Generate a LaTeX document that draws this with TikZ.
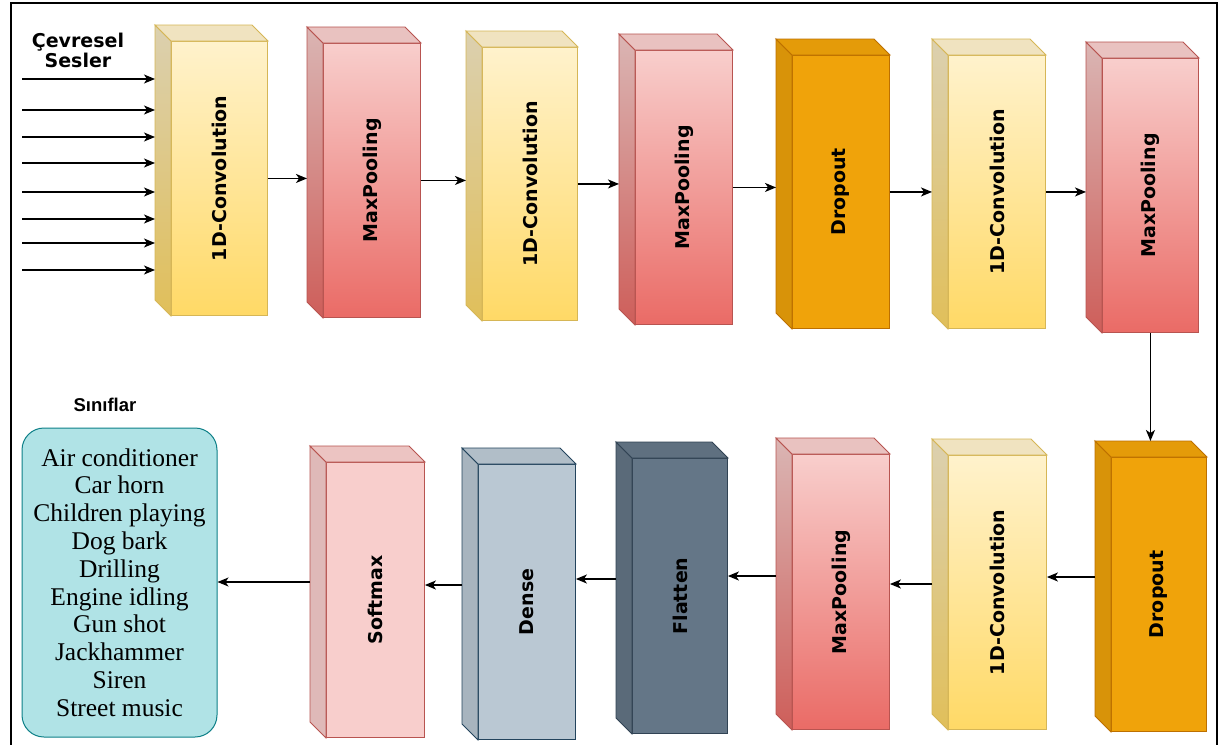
\documentclass[tikz,border=0pt]{standalone}
\usepackage{fontspec}
\setmainfont{Liberation Serif}
\setsansfont{DejaVu Sans}
\newfontfamily\headfont{Liberation Sans}
\usetikzlibrary{arrows.meta}

% layer palettes
\definecolor{convA}{HTML}{FFF2CC}
\definecolor{convB}{HTML}{FFD966}
\definecolor{convS}{HTML}{D6B656}
\definecolor{poolA}{HTML}{F8CECC}
\definecolor{poolB}{HTML}{EA6B66}
\definecolor{poolS}{HTML}{B85450}
\definecolor{dropF}{HTML}{F0A30A}
\definecolor{dropS}{HTML}{BD7000}
\definecolor{softF}{HTML}{F8CECC}
\definecolor{softS}{HTML}{B85450}
\definecolor{denseF}{HTML}{BAC8D3}
\definecolor{denseS}{HTML}{23445D}
\definecolor{flatF}{HTML}{647687}
\definecolor{flatS}{HTML}{314354}
\definecolor{clsF}{HTML}{B0E3E6}
\definecolor{clsS}{HTML}{0E8088}

\tikzset{
  x=1pt, y=-1pt,
  arr/.style={-{Stealth[length=11pt,width=9pt,inset=3pt]}, line width=1.4pt},
  lbl/.style={font=\sffamily\bfseries\fontsize{19}{22}\selectfont, inner sep=0pt},
  conv/.style={draw=convS, line width=0.9pt, top color=convA, bottom color=convB},
  conv side/.style={draw=convS, line width=0.9pt, top color=convA!86!black, bottom color=convB!88!black},
  conv top/.style={draw=convS, line width=0.9pt, fill=convA!94!black},
  pool/.style={draw=poolS, line width=0.9pt, top color=poolA, bottom color=poolB},
  pool side/.style={draw=poolS, line width=0.9pt, top color=poolA!88!black, bottom color=poolB!88!black},
  pool top/.style={draw=poolS, line width=0.9pt, fill=poolA!94!black},
  drop/.style={draw=dropS, line width=0.9pt, fill=dropF},
  drop side/.style={draw=dropS, line width=0.9pt, fill=dropF!90!black},
  drop top/.style={draw=dropS, line width=0.9pt, fill=dropF!95!black},
  soft/.style={draw=softS, line width=0.9pt, fill=softF},
  soft side/.style={draw=softS, line width=0.9pt, fill=softF!90!black},
  soft top/.style={draw=softS, line width=0.9pt, fill=softF!95!black},
  dense/.style={draw=denseS, line width=0.9pt, fill=denseF},
  dense side/.style={draw=denseS, line width=0.9pt, fill=denseF!90!black},
  dense top/.style={draw=denseS, line width=0.9pt, fill=denseF!95!black},
  flat/.style={draw=flatS, line width=0.9pt, fill=flatF},
  flat side/.style={draw=flatS, line width=0.9pt, fill=flatF!90!black},
  flat top/.style={draw=flatS, line width=0.9pt, fill=flatF!95!black},
}

% a layer drawn as a cuboid: name, left, top, right, bottom, kind, label
\newcommand\layer[7]{%
  \node[#6, anchor=north west, inner sep=0pt,
        minimum width={(#4-#2)*1pt}, minimum height={(#5-#3)*1pt}] (#1) at (#2,#3) {};
  \node[inner sep=0pt, anchor=north west,
        minimum width={(#4-#2)*1pt}, minimum height={(#5-#3)*1pt}] (#1-back) at (#2-16,#3-16) {};
  \path[#6 side] (#1.north west) -- ++(-16,-16) -- ([shift={(-16,-16)}]#1.south west) -- (#1.south west) -- cycle;
  \path[#6 top] (#1.north west) -- ++(-16,-16) -- ([shift={(-16,-16)}]#1.north east) -- (#1.north east) -- cycle;
  \node[lbl, rotate=90] (#1-t) at (#1.center) {#7};
}

\begin{document}
\begin{tikzpicture}
\useasboundingbox (0,0) rectangle (1220,744);
\fill[white] (0,0) rectangle (1220,744);
\draw[line width=2.4pt] (11,746) -- (11,3) -- (1217,3) -- (1217,746);

% upper row
\layer{c1}{171}{41}{267}{315}{conv}{1D-Convolution}
\layer{c2}{323}{43}{420}{317}{pool}{MaxPooling}
\layer{c3}{482}{47}{577}{320}{conv}{1D-Convolution}
\layer{c4}{635}{50}{732}{324}{pool}{MaxPooling}
\layer{c5}{792}{55}{889}{328}{drop}{Dropout}
\layer{c6}{948}{55}{1045}{328}{conv}{1D-Convolution}
\layer{c7}{1102}{58}{1198}{332}{pool}{MaxPooling}

% lower row
\layer{d2}{1111}{457}{1206}{731}{drop}{Dropout}
\layer{c8}{948}{455}{1046}{729}{conv}{1D-Convolution}
\layer{m3}{792}{454}{889}{729}{pool}{MaxPooling}
\layer{fl}{632}{458}{727}{733}{flat}{Flatten}
\layer{de}{478}{464}{575}{739}{dense}{Dense}
\layer{sm}{326}{462}{424}{737}{soft}{Softmax}

% input signal
\node[font=\sffamily\bfseries\fontsize{19}{20}\selectfont, align=center, inner sep=0pt] (src) at (78,50) {Çevresel\\Sesler};
\foreach \y [count=\i] in {79,110,137,163,192,219,243,270} {
  \coordinate (in\i) at (22,\y);
  \draw[arr] (in\i) -- (in\i -| c1-back.west);
}

% class list
\node[font=\headfont\bfseries\fontsize{18.5}{20}\selectfont, inner sep=0pt] (cap) at (105,405) {Sınıflar};
\node[draw=clsS, fill=clsF, line width=1pt, rounded corners=22pt, minimum width=195pt, minimum height=309pt,
      align=center, inner sep=0pt, font=\fontsize{25.5}{27.8}\selectfont] (cls) at (119.5,582.5)
  {Air conditioner\\Car horn\\Children playing\\Dog bark\\Drilling\\Engine idling\\Gun shot\\Jackhammer\\Siren\\Street music};

% connectors
\foreach \a/\b in {c1/c2, c2/c3, c3/c4, c4/c5, c5/c6, c6/c7}
  \draw[arr] (\a.east) -- (\a.east -| \b-back.west);
\draw[arr] (c7.south) -- (c7.south |- d2-back.north);
\foreach \a/\b/\y in {d2/c8/577, c8/m3/584, m3/fl/576, fl/de/579, de/sm/585}
  \draw[arr] (\a-back.west |- 0,\y) -- (\b.east |- 0,\y);
\draw[arr] (sm-back.west |- 0,582) -- (cls.east |- 0,582);
\end{tikzpicture}
\end{document}
